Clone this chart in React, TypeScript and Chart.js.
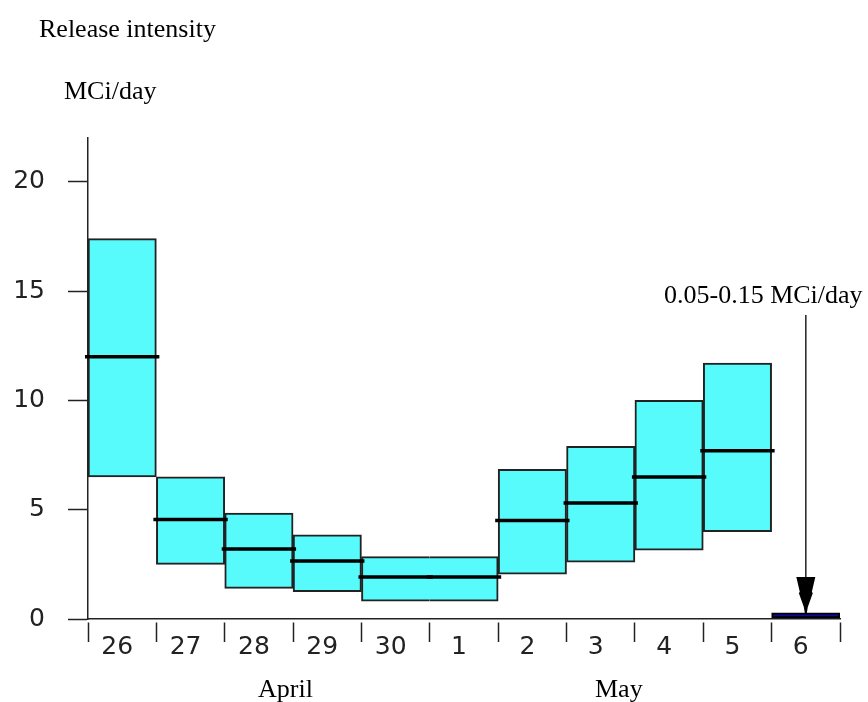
import React, { useEffect, useRef } from 'react';
import { Chart, registerables } from 'chart.js';

Chart.register(...registerables);

// ---- data ----
const days = ['26', '27', '28', '29', '30', '1', '2', '3', '4', '5', '6'];
const lows = [6.5, 2.5, 1.4, 1.25, 0.82, 0.82, 2.05, 2.6, 3.15, 4.0, 0.05];
const highs = [17.4, 6.5, 4.85, 3.85, 2.85, 2.85, 6.85, 7.9, 10.0, 11.7, 0.15];
const medians: (number | null)[] = [12.0, 4.55, 3.2, 2.65, 1.92, 1.92, 4.5, 5.3, 6.5, 7.7, null];
const yTicks = [0, 5, 10, 15, 20];
const titleText = 'Release intensity';
const unitText = 'MCi/day';
const noteText = '0.05-0.15 MCi/day';
const monthLabels = ['April', 'May'];
// days 30 and 1 share one box (no dividing edge)
const joinedLeft = 4;
const joinedRight = 5;

export default function App() {
  const ref = useRef<HTMLCanvasElement>(null);

  useEffect(() => {
    const canvas = ref.current;
    if (!canvas) return;
    const boxFill = 'rgb(88, 251, 251)';
    const lastFill = '#0b0b9c';
    const last = days.length - 1;
    const tickFont = { family: '"DejaVu Sans"', size: 25 };
    const ink = '#222';

    const medianPlugin = {
      id: 'medians',
      afterDatasetsDraw(chart: any) {
        const { ctx } = chart;
        const x = chart.scales.x;
        const y = chart.scales.y;
        ctx.save();
        // remove the seam between the two joined days
        const el = chart.getDatasetMeta(0).data[joinedLeft];
        if (el) {
          const p = el.getProps(['x', 'y', 'base', 'width'], true);
          const bx = Math.round(p.x + p.width / 2);
          const top = Math.min(p.y, p.base);
          const bottom = Math.max(p.y, p.base);
          ctx.fillStyle = boxFill;
          ctx.fillRect(bx - 4, Math.ceil(top + 2), 8, Math.floor(bottom - top - 4));
        }
        const half = (x.getPixelForValue(1) - x.getPixelForValue(0)) / 2;
        ctx.strokeStyle = '#000';
        ctx.lineWidth = 3.5;
        medians.forEach((m, i) => {
          if (m == null) return;
          const cx = x.getPixelForValue(i);
          const py = y.getPixelForValue(m);
          ctx.beginPath();
          ctx.moveTo(cx - half - 3, py);
          ctx.lineTo(cx + half + 3, py);
          ctx.stroke();
        });
        ctx.restore();
      },
    };

    const textPlugin = {
      id: 'texts',
      afterDraw(chart: any) {
        const { ctx } = chart;
        const x = chart.scales.x;
        const y = chart.scales.y;
        ctx.save();
        ctx.fillStyle = '#000';
        ctx.font = '26px "Liberation Serif"';
        ctx.textBaseline = 'alphabetic';
        ctx.textAlign = 'left';
        ctx.fillText(titleText, 39, 37);
        ctx.fillText(unitText, 64, 99);
        ctx.fillText(monthLabels[0], 258, 697);
        ctx.fillText(monthLabels[1], 595, 697);
        ctx.fillText(noteText, 664, 303);

        // arrow
        const ax = x.getPixelForValue(last);
        const ty = Math.min(y.getPixelForValue(highs[last]), y.getPixelForValue(lows[last]) - 5);
        ctx.strokeStyle = ink;
        ctx.lineWidth = 1.5;
        ctx.beginPath();
        ctx.moveTo(ax, 315);
        ctx.lineTo(ax, ty - 30);
        ctx.stroke();
        ctx.fillStyle = '#000';
        const pts: [number, number][] = [
          [-9.5, -36], [9.5, -36], [6, -21], [7, -20], [2, -6], [1, 0],
          [-1, 0], [-2, -6], [-7, -20], [-6, -21],
        ];
        ctx.beginPath();
        pts.forEach(([dx, dy], k) => {
          if (k === 0) ctx.moveTo(ax + dx, ty + dy);
          else ctx.lineTo(ax + dx, ty + dy);
        });
        ctx.closePath();
        ctx.fill();
        ctx.restore();
      },
    };

    const chart = new Chart(canvas, {
      type: 'bar',
      data: {
        labels: days,
        datasets: [
          {
            data: days.map((_, i) => [lows[i], highs[i]]) as any,
            backgroundColor: days.map((_, i) => (i === last ? lastFill : boxFill)),
            borderColor: days.map((_, i) => (i === last ? '#000' : '#222')),
            borderWidth: ((c: any) =>
              c.dataIndex === joinedLeft
                ? { top: 2, bottom: 2, left: 2, right: 0 }
                : c.dataIndex === joinedRight
                ? { top: 2, bottom: 2, left: 0, right: 2 }
                : 2) as any,
            borderSkipped: false,
            barPercentage: 1,
            categoryPercentage: 1,
            minBarLength: 5,
          } as any,
        ],
      },
      options: {
        animation: false,
        responsive: false,
        devicePixelRatio: 1,
        layout: { padding: { left: 0, right: 28, top: 138, bottom: 0 } },
        plugins: { legend: { display: false }, tooltip: { enabled: false } },
        scales: {
          x: {
            offset: true,
            grid: {
              offset: true,
              drawOnChartArea: false,
              drawTicks: true,
              tickLength: 23,
              tickColor: ink,
              tickWidth: 1.5,
              tickBorderDash: [0, 3, 20, 40],
            } as any,
            border: { color: ink, width: 1.5 },
            ticks: {
              font: tickFont,
              color: ink,
              padding: -10,
              labelOffset: -5,
              maxRotation: 0,
              autoSkip: false,
            },
            afterFit: (s: any) => {
              s.height = 83;
            },
          },
          y: {
            min: 0,
            max: 22,
            ticks: { stepSize: 5, font: tickFont, color: ink, padding: 23 },
            afterBuildTicks: (s: any) => {
              s.ticks = s.ticks.filter((t: any) => yTicks.includes(t.value));
            },
            grid: {
              drawOnChartArea: false,
              drawTicks: true,
              tickLength: 20,
              tickColor: ink,
              tickWidth: 1.5,
            },
            border: { color: ink, width: 1.5 },
            afterFit: (s: any) => {
              s.width = 88;
            },
          },
        },
      },
      plugins: [medianPlugin, textPlugin],
    });

    return () => chart.destroy();
  }, []);

  return (
    <div style={{ position: 'absolute', left: 0, top: 0, width: 868, height: 702, background: '#fff' }}>
      <canvas ref={ref} width={868} height={702} style={{ display: 'block' }} />
    </div>
  );
}
